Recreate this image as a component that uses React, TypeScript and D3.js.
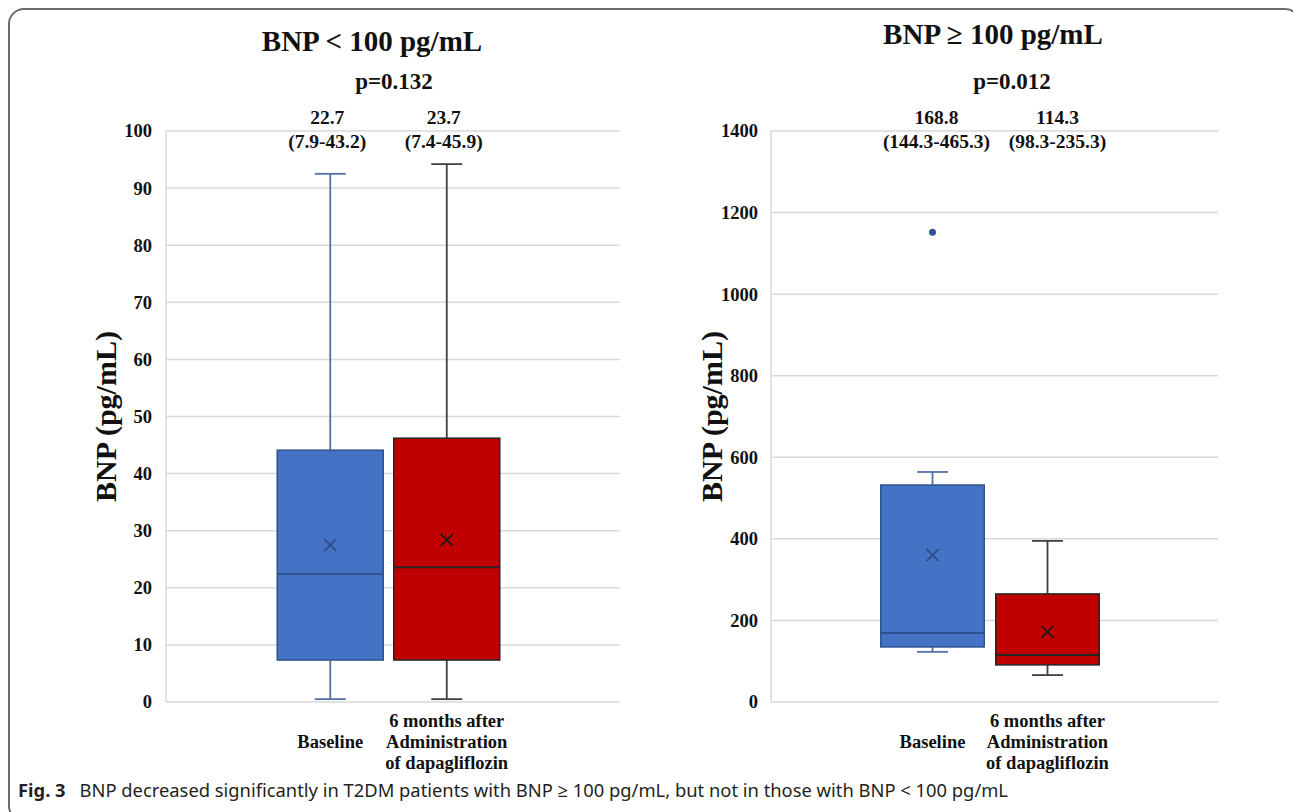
import React from "react";
import * as d3 from "d3";

// ---------- data ----------
const categories = ["Baseline", "6 months after Administration of dapagliflozin"];
const categoryLines = [["Baseline"], ["6 months after", "Administration", "of dapagliflozin"]];

// Panel A: BNP < 100 pg/mL
const titleA = "BNP < 100 pg/mL";
const pValueA = "p=0.132";
const ticksA = [0, 10, 20, 30, 40, 50, 60, 70, 80, 90, 100];
const minA = [0.5, 0.5];
const q1A = [7.35, 7.35];
const medianA = [22.4, 23.6];
const q3A = [44.1, 46.2];
const maxA = [92.5, 94.2];
const meanA = [27.5, 28.4];
const outliersA: number[][] = [[], []];
const medLabelA = ["22.7", "23.7"];
const iqrLabelA = ["(7.9-43.2)", "(7.4-45.9)"];

// Panel B: BNP >= 100 pg/mL
const titleB = "BNP \u2265 100 pg/mL";
const pValueB = "p=0.012";
const ticksB = [0, 200, 400, 600, 800, 1000, 1200, 1400];
const minB = [123, 66];
const q1B = [135, 91];
const medianB = [169, 115];
const q3B = [532, 265];
const maxB = [564, 395];
const meanB = [360, 172];
const outliersB: number[][] = [[1152], []];
const medLabelB = ["168.8", "114.3"];
const iqrLabelB = ["(144.3-465.3)", "(98.3-235.3)"];

const yAxisLabel = "BNP (pg/mL)";
const captionBold = "Fig. 3";
const captionText = "BNP decreased significantly in T2DM patients with BNP \u2265 100 pg/mL, but not in those with BNP < 100 pg/mL";

// ---------- styles ----------
const SERIF = "'Liberation Serif', 'Times New Roman', serif";
const fills = ["#4472C4", "#C00000"];
const strokes = ["#2F528F", "#262626"];
const whiskerColors = ["#5470A6", "#404040"];
const meanColors = ["#2F4A80", "#1a1a1a"];
const gridColor = "#D9D9D9";

type PanelProps = {
  title: string; titleX: number; titleY: number;
  pValue: string; pX: number;
  ticks: number[];
  mins: number[]; q1s: number[]; meds: number[]; q3s: number[]; maxs: number[]; means: number[];
  outliers: number[][];
  medLabels: string[]; iqrLabels: string[]; annDx: number[];
  x0: number; x1: number; bandRange: [number, number]; padInner: number;
  labelAxisX: number; tickX: number;
};

function Panel(p: PanelProps) {
  const yTop = 131, yBot = 702;
  const y = d3.scaleLinear().domain([0, d3.max(p.ticks)!]).range([yBot, yTop]);
  const x = d3.scaleBand<string>().domain(categories).range(p.bandRange)
    .paddingInner(p.padInner).paddingOuter(p.padInner / 2);
  const bw = x.bandwidth();
  const cap = 31;
  const m = 6;
  return (
    <g>
      {p.ticks.map((t) => (
        <line key={"g" + t} x1={p.x0} x2={p.x1} y1={y(t)} y2={y(t)} stroke={gridColor} strokeWidth={1.5} />
      ))}
      <line x1={p.x0} x2={p.x0} y1={yTop} y2={yBot} stroke={gridColor} strokeWidth={1.5} />
      {p.ticks.map((t) => (
        <text key={"t" + t} x={p.tickX} y={y(t)} dy="0.35em" textAnchor="end"
          fontFamily={SERIF} fontWeight="bold" fontSize={18.5} fill="#111">{t}</text>
      ))}
      <text transform={`translate(${p.labelAxisX},${(yTop + yBot) / 2}) rotate(-90)`} textAnchor="middle"
        fontFamily={SERIF} fontWeight="bold" fontSize={30} fill="#111">{yAxisLabel}</text>
      <text x={p.titleX} y={p.titleY} textAnchor="middle" fontFamily={SERIF} fontWeight="bold" fontSize={29} fill="#111">{p.title}</text>
      <text x={p.pX} y={89} textAnchor="middle" fontFamily={SERIF} fontWeight="bold" fontSize={23} fill="#111">{p.pValue}</text>
      {categories.map((c, i) => {
        const bx = x(c)!;
        const cx = bx + bw / 2;
        const ax = cx + p.annDx[i];
        return (
          <g key={c}>
            <line x1={cx} x2={cx} y1={y(p.maxs[i])} y2={y(p.q3s[i])} stroke={whiskerColors[i]} strokeWidth={1.8} />
            <line x1={cx} x2={cx} y1={y(p.q1s[i])} y2={y(p.mins[i])} stroke={whiskerColors[i]} strokeWidth={1.8} />
            <line x1={cx - cap / 2} x2={cx + cap / 2} y1={y(p.maxs[i])} y2={y(p.maxs[i])} stroke={whiskerColors[i]} strokeWidth={1.8} />
            <line x1={cx - cap / 2} x2={cx + cap / 2} y1={y(p.mins[i])} y2={y(p.mins[i])} stroke={whiskerColors[i]} strokeWidth={1.8} />
            <rect x={bx} y={y(p.q3s[i])} width={bw} height={y(p.q1s[i]) - y(p.q3s[i])}
              fill={fills[i]} stroke={strokes[i]} strokeWidth={1.5} />
            <line x1={bx} x2={bx + bw} y1={y(p.meds[i])} y2={y(p.meds[i])} stroke={strokes[i]} strokeWidth={2} />
            <path d={`M${cx - m},${y(p.means[i]) - m}L${cx + m},${y(p.means[i]) + m}M${cx - m},${y(p.means[i]) + m}L${cx + m},${y(p.means[i]) - m}`}
              stroke={meanColors[i]} strokeWidth={1.6} fill="none" />
            {p.outliers[i].map((o, k) => (
              <circle key={k} cx={cx} cy={y(o)} r={3.5} fill="#2F5597" />
            ))}
            <text x={ax} y={124} textAnchor="middle" fontFamily={SERIF} fontWeight="bold" fontSize={19.5} fill="#111">{p.medLabels[i]}</text>
            <text x={ax} y={148} textAnchor="middle" fontFamily={SERIF} fontWeight="bold" fontSize={19.5} fill="#111">{p.iqrLabels[i]}</text>
            {categoryLines[i].map((ln, k) => {
              const n = categoryLines[i].length;
              const by = 748 + (k - (n - 1) / 2) * 21;
              return (
                <text key={k} x={cx} y={by} textAnchor="middle" fontFamily={SERIF} fontWeight="bold" fontSize={18.5} fill="#111">{ln}</text>
              );
            })}
          </g>
        );
      })}
    </g>
  );
}

export default function App() {
  return (
    <svg width={1293} height={812} style={{ position: "absolute", left: 0, top: 0, background: "#fff" }}>
      <rect x={0} y={0} width={1293} height={812} fill="#fff" />
      <rect x={9} y={9} width={1291} height={812} rx={15} ry={15} fill="none" stroke="#6b6b6b" strokeWidth={2} />
      <Panel title={titleA} titleX={372} titleY={51} pValue={pValueA} pX={394} ticks={ticksA}
        mins={minA} q1s={q1A} meds={medianA} q3s={q3A} maxs={maxA} means={meanA} outliers={outliersA}
        medLabels={medLabelA} iqrLabels={iqrLabelA} annDx={[-3, -3]}
        x0={166} x1={620} bandRange={[272, 505]} padInner={0.09} labelAxisX={116} tickX={152} />
      <Panel title={titleB} titleX={993} titleY={44} pValue={pValueB} pX={1012} ticks={ticksB}
        mins={minB} q1s={q1B} meds={medianB} q3s={q3B} maxs={maxB} means={meanB} outliers={outliersB}
        medLabels={medLabelB} iqrLabels={iqrLabelB} annDx={[4, 10]}
        x0={771} x1={1218} bandRange={[875, 1105]} padInner={0.1} labelAxisX={722} tickX={758} />
      <text x={18} y={797} fontFamily="'Noto Sans', 'Open Sans', sans-serif" fontSize={18.5} fill="#231f20"
        textLength={990} lengthAdjust="spacingAndGlyphs">
        <tspan fontWeight="bold">{captionBold}</tspan>
        <tspan>{"\u2002 " + captionText}</tspan>
      </text>
    </svg>
  );
}
